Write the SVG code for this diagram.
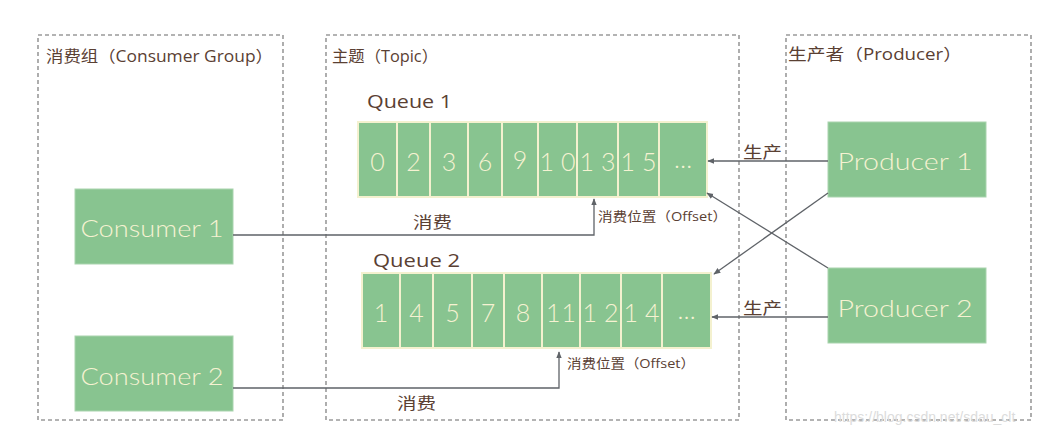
<svg xmlns="http://www.w3.org/2000/svg" width="1048" height="435" viewBox="0 0 1048 435">
<style>
.grp{fill:none;stroke:#9a9a9a;stroke-width:1.6;stroke-dasharray:4 3}
.node{fill:#88C490;stroke:#a9d4ae;stroke-width:1}
.cell{fill:#88C490;stroke:#f4f1cf;stroke-width:2}
.nt{font-family:Lato,"Open Sans","Liberation Sans",sans-serif;font-weight:300;fill:#f6f2d2;font-size:23px;text-anchor:middle;dominant-baseline:central}
.num{font-family:Lato,"Open Sans","Liberation Sans",sans-serif;font-weight:300;fill:#f6f2d2;font-size:25px;text-anchor:middle;dominant-baseline:central}
.lbl{font-family:"Open Sans","Noto Sans CJK SC",sans-serif;fill:#5a4033;dominant-baseline:central}
.conn{fill:none;stroke:#5f6368;stroke-width:1.3}
</style>
<defs>
<marker id="ah" viewBox="0 0 10 10" refX="9" refY="5" markerWidth="7" markerHeight="7" orient="auto" markerUnits="userSpaceOnUse">
<path d="M0,1 L10,5 L0,9 z" fill="#5f6368"/>
</marker>
</defs>
<rect width="1048" height="435" fill="#ffffff"/>

<g id="consumer-group">
<rect class="grp" x="38" y="35" width="245" height="385"/>
<text class="lbl" x="46" y="56" font-size="16" textLength="227" lengthAdjust="spacingAndGlyphs">消费组（Consumer Group）</text>
</g>
<g id="topic">
<rect class="grp" x="326" y="35" width="413" height="385"/>
<text class="lbl" x="332" y="56" font-size="16" textLength="106" lengthAdjust="spacingAndGlyphs">主题（Topic）</text>
</g>
<g id="producer-group">
<rect class="grp" x="786" y="35" width="245" height="385"/>
<text class="lbl" x="788" y="54" font-size="16" textLength="174" lengthAdjust="spacingAndGlyphs">生产者（Producer）</text>
</g>

<g id="consumer1">
<rect class="node" x="75" y="189" width="158" height="75"/>
<text class="nt" x="152" y="228" textLength="143" lengthAdjust="spacingAndGlyphs">Consumer 1</text>
</g>
<g id="consumer2">
<rect class="node" x="75" y="336" width="158" height="75"/>
<text class="nt" x="152" y="376" textLength="143" lengthAdjust="spacingAndGlyphs">Consumer 2</text>
</g>
<g id="producer1">
<rect class="node" x="828" y="122" width="158" height="75"/>
<text class="nt" x="905" y="161" textLength="135" lengthAdjust="spacingAndGlyphs">Producer 1</text>
</g>
<g id="producer2">
<rect class="node" x="828" y="268" width="158" height="75"/>
<text class="nt" x="905" y="308" textLength="135" lengthAdjust="spacingAndGlyphs">Producer 2</text>
</g>

<g id="queue1">
<text class="lbl" x="367" y="101" font-size="19" textLength="85" lengthAdjust="spacingAndGlyphs">Queue 1</text>
<rect class="cell" x="358" y="122" width="39" height="75"/>
<rect class="cell" x="397" y="122" width="33" height="75"/>
<rect class="cell" x="430" y="122" width="38" height="75"/>
<rect class="cell" x="468" y="122" width="34" height="75"/>
<rect class="cell" x="502" y="122" width="36" height="75"/>
<rect class="cell" x="538" y="122" width="39" height="75"/>
<rect class="cell" x="577" y="122" width="41" height="75"/>
<rect class="cell" x="618" y="122" width="41" height="75"/>
<rect class="cell" x="659" y="122" width="48" height="75"/>
<text class="num" x="377.5" y="161">0</text>
<text class="num" x="413.5" y="161">2</text>
<text class="num" x="449" y="161">3</text>
<text class="num" x="485" y="161">6</text>
<text class="num" x="520" y="159">9</text>
<text class="num" x="557.5" y="161" textLength="36" lengthAdjust="spacing">10</text>
<text class="num" x="597.5" y="161" textLength="36" lengthAdjust="spacing">13</text>
<text class="num" x="638.5" y="161" textLength="36" lengthAdjust="spacing">15</text>
<text class="num" x="683" y="158">…</text>
</g>

<g id="queue2">
<text class="lbl" x="373" y="260" font-size="19" textLength="87" lengthAdjust="spacingAndGlyphs">Queue 2</text>
<rect class="cell" x="362" y="273" width="38" height="75"/>
<rect class="cell" x="400" y="273" width="33" height="75"/>
<rect class="cell" x="433" y="273" width="39" height="75"/>
<rect class="cell" x="472" y="273" width="32" height="75"/>
<rect class="cell" x="504" y="273" width="38" height="75"/>
<rect class="cell" x="542" y="273" width="38" height="75"/>
<rect class="cell" x="580" y="273" width="41" height="75"/>
<rect class="cell" x="621" y="273" width="41" height="75"/>
<rect class="cell" x="662" y="273" width="49" height="75"/>
<text class="num" x="381" y="312">1</text>
<text class="num" x="416.5" y="312">4</text>
<text class="num" x="452.5" y="312">5</text>
<text class="num" x="488" y="312">7</text>
<text class="num" x="523" y="312">8</text>
<text class="num" x="561" y="312" textLength="30" lengthAdjust="spacing">11</text>
<text class="num" x="600.5" y="312" textLength="36" lengthAdjust="spacing">12</text>
<text class="num" x="641.5" y="312" textLength="36" lengthAdjust="spacing">14</text>
<text class="num" x="686.5" y="309">…</text>
</g>

<g id="connectors">
<polyline class="conn" points="233,235 594,235 594,199" marker-end="url(#ah)"/>
<polyline class="conn" points="233,388 559,388 559,352" marker-end="url(#ah)"/>
<line class="conn" x1="828" y1="161" x2="708" y2="161" marker-end="url(#ah)"/>
<line class="conn" x1="828" y1="317" x2="712" y2="317" marker-end="url(#ah)"/>
<line class="conn" x1="828" y1="193" x2="714" y2="274" marker-end="url(#ah)"/>
<line class="conn" x1="828" y1="268" x2="707" y2="193" marker-end="url(#ah)"/>
<text class="lbl" x="413" y="222" font-size="16" textLength="39" lengthAdjust="spacingAndGlyphs">消费</text>
<text class="lbl" x="397" y="403" font-size="16" textLength="39" lengthAdjust="spacingAndGlyphs">消费</text>
<text class="lbl" x="743" y="152" font-size="16" textLength="39" lengthAdjust="spacingAndGlyphs">生产</text>
<text class="lbl" x="743" y="308" font-size="16" textLength="39" lengthAdjust="spacingAndGlyphs">生产</text>
<text class="lbl" x="598" y="216" font-size="13" textLength="129" lengthAdjust="spacingAndGlyphs">消费位置（Offset）</text>
<text class="lbl" x="567" y="363" font-size="13" textLength="128" lengthAdjust="spacingAndGlyphs">消费位置（Offset）</text>
</g>

<text x="834" y="422" font-family="'Liberation Sans',sans-serif" font-size="14" fill="#dcdcdc">https://blog.csdn.net/sdau_clt</text>
</svg>
